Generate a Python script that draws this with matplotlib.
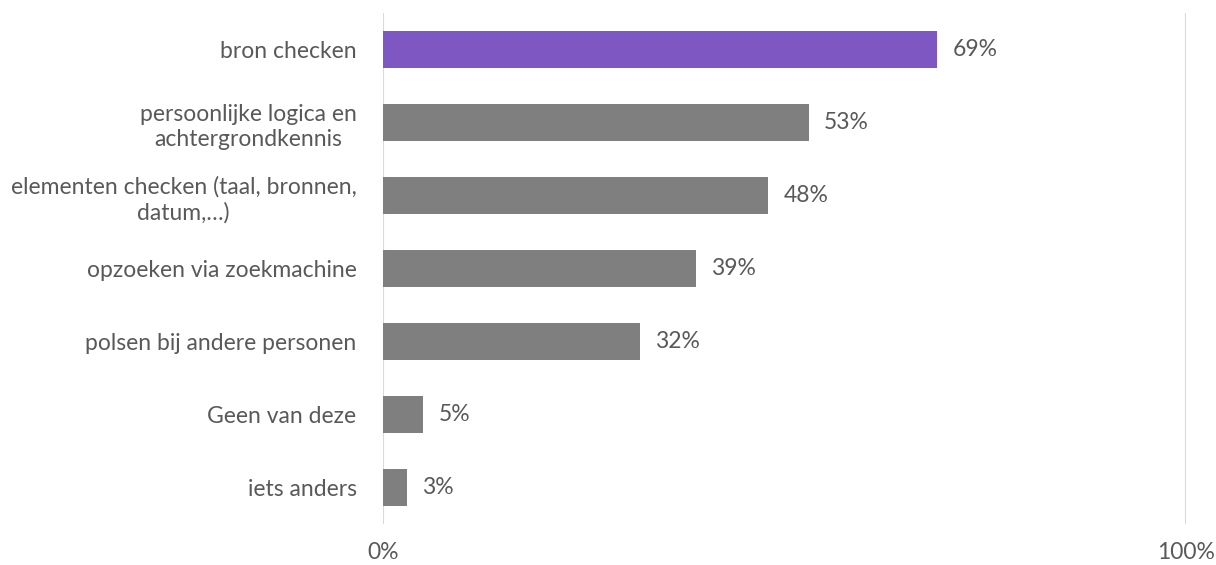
import matplotlib
matplotlib.use("Agg")
import matplotlib.pyplot as plt

categories = ["bron checken",
              "persoonlijke logica en\nachtergrondkennis",
              "elementen checken (taal, bronnen,\ndatum,\u2026)",
              "opzoeken via zoekmachine",
              "polsen bij andere personen",
              "Geen van deze",
              "iets anders"]
values = [69, 53, 48, 39, 32, 5, 3]
colors = ["#7e57c2"] + ["#7f7f7f"] * 6

plt.rcParams['font.family'] = ['Lato', 'DejaVu Sans']
txt = "#595959"
fs = 16.5

fig = plt.figure(figsize=(12.16, 5.65), dpi=100)
ax = fig.add_axes([383/1216, 1-524/565, (1186-383)/1216, (524-13)/565])

y = list(range(len(categories)))
ax.barh(y, values, height=0.5, color=colors)
for yi, v in zip(y, values):
    ax.annotate("{}%".format(v), (v, yi), xytext=(11, 0), textcoords="offset points",
                va="center", ha="left", fontsize=fs, color=txt)

ax.set_xlim(0, 100)
ax.set_ylim(len(categories) - 0.5, -0.5)
ax.set_xticks([0, 100])
ax.set_xticklabels(["0%", "100%"], fontsize=fs, color=txt)
ax.set_yticks(y)
ax.set_yticklabels(categories, fontsize=fs, color=txt, multialignment="center", linespacing=1.25)
ax.tick_params(length=0)
ax.tick_params(axis="y", pad=19)
ax.tick_params(axis="x", pad=13)
ax.grid(axis="x", color="#d9d9d9", linewidth=1.5)
ax.set_axisbelow(True)
for s in ax.spines.values():
    s.set_visible(False)

fig.savefig("out.png", dpi=100)
